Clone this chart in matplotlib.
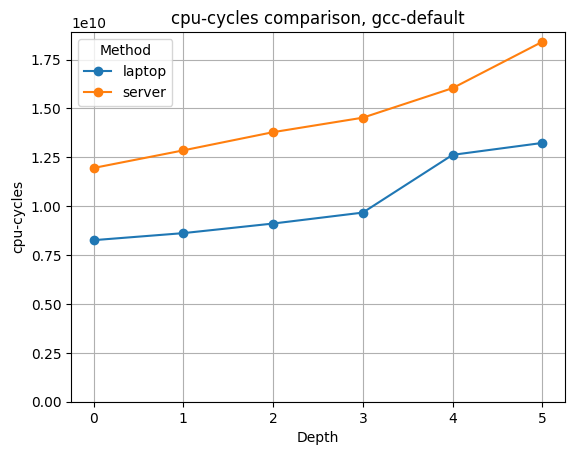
import matplotlib
matplotlib.use("Agg")
import matplotlib.pyplot as plt

depth = [0, 1, 2, 3, 4, 5]
laptop = [8.27e9, 8.63e9, 9.12e9, 9.68e9, 1.263e10, 1.324e10]
server = [1.196e10, 1.286e10, 1.379e10, 1.453e10, 1.604e10, 1.841e10]

fig = plt.figure(figsize=(5.76, 4.55), dpi=100)
ax = fig.add_axes([0.1235, 0.1165, 0.857, 0.8135])
ax.plot(depth, laptop, marker='o', label='laptop')
ax.plot(depth, server, marker='o', label='server')
ax.set_ylim(bottom=0)
ax.set_xlabel('Depth')
ax.set_ylabel('cpu-cycles')
ax.set_title('cpu-cycles comparison, gcc-default')
ax.grid(True)
ax.legend(title='Method', loc='upper left')
fig.savefig('out.png', dpi=100)
